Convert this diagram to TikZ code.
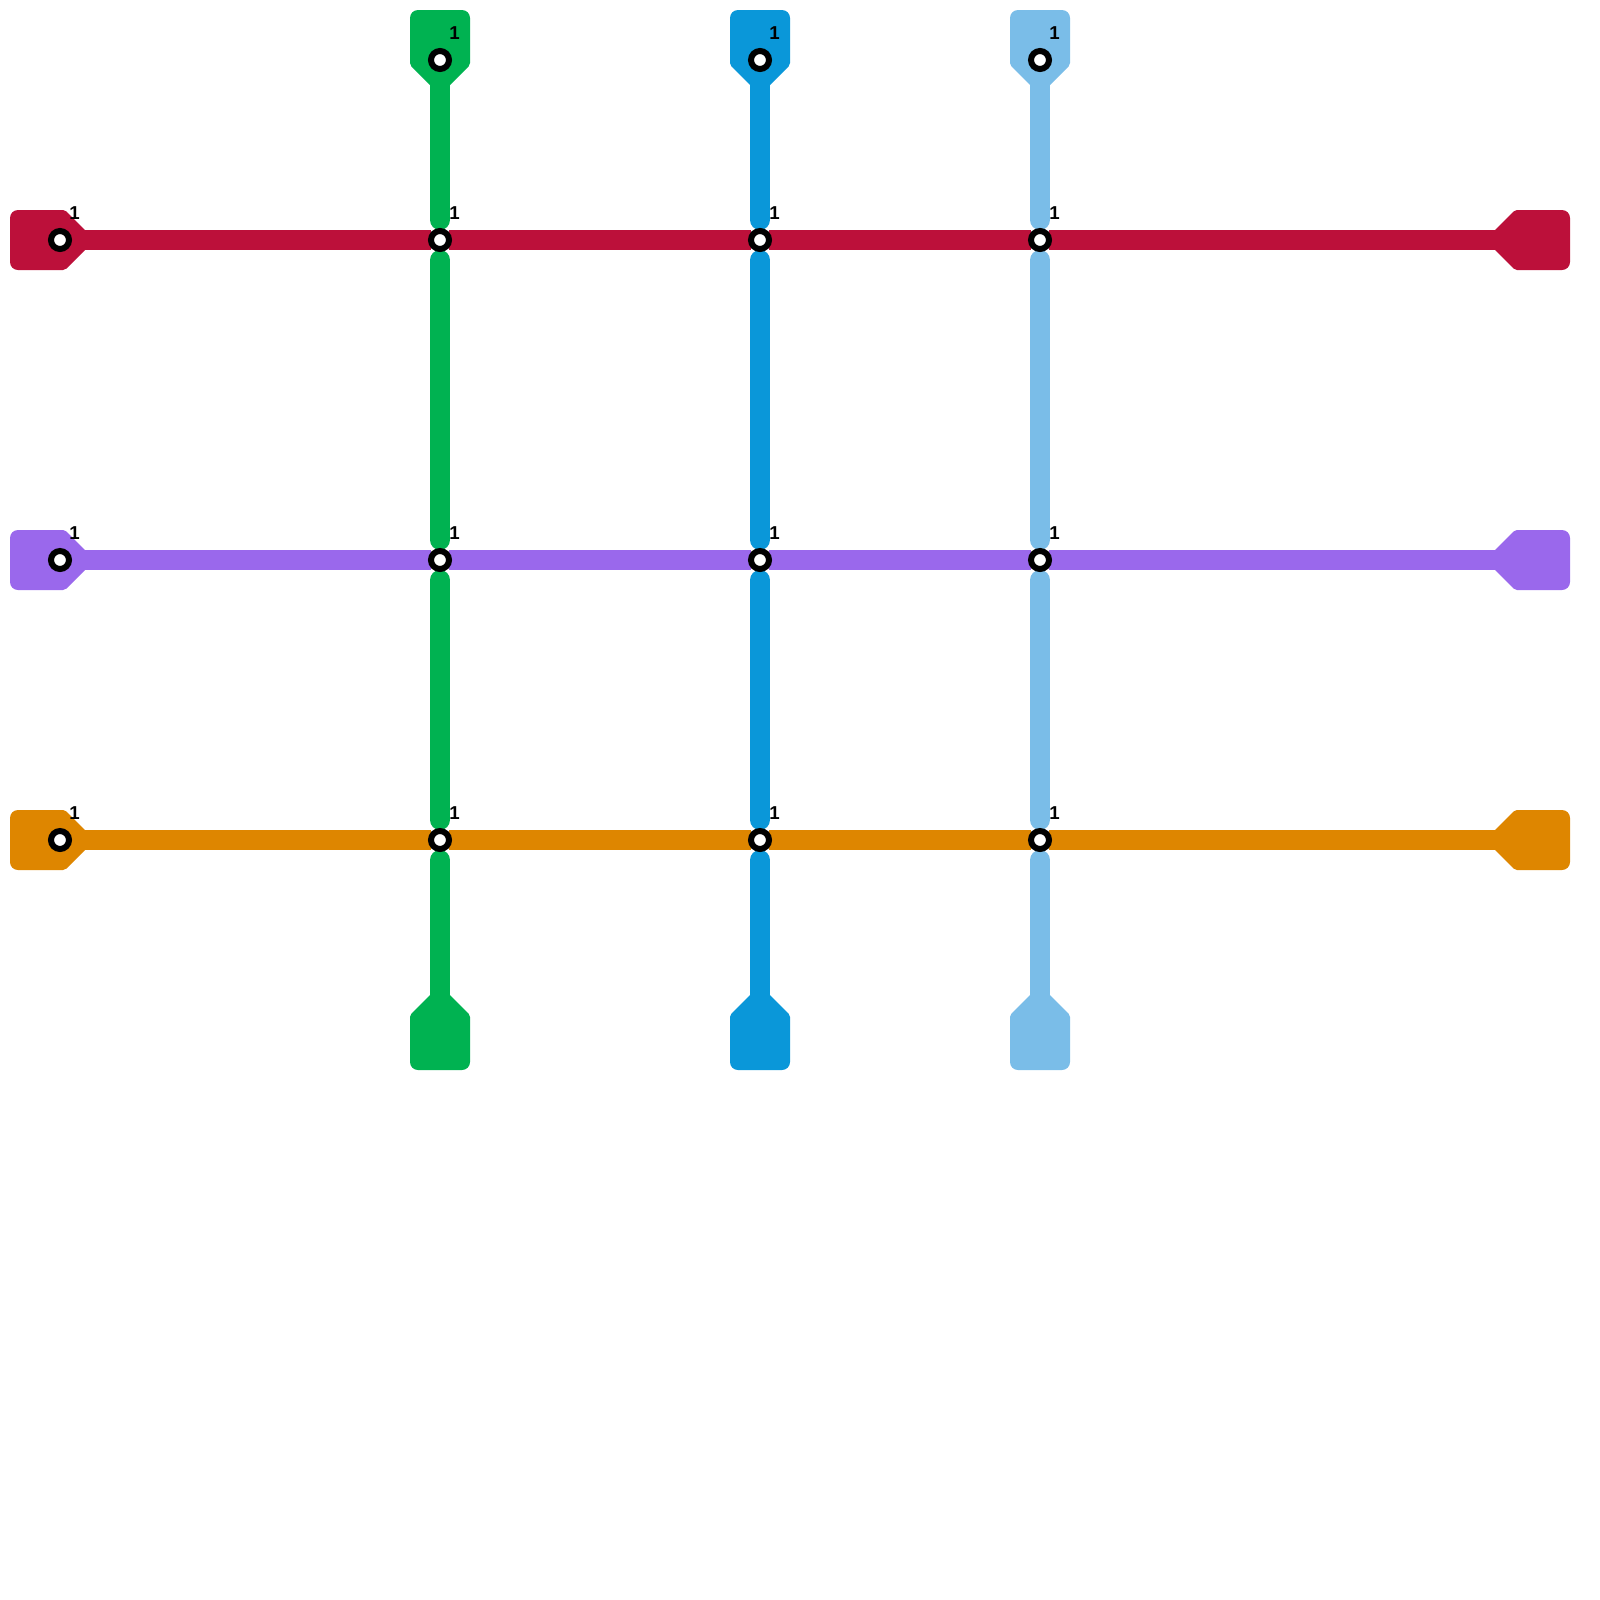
\documentclass[tikz,border=0pt]{standalone}
\usepackage{fontspec}
\setmainfont{Liberation Sans}
\usetikzlibrary{calc}
\definecolor{linered}{RGB}{188,16,58}
\definecolor{linepurple}{RGB}{154,104,236}
\definecolor{lineorange}{RGB}{222,134,0}
\definecolor{linegreen}{RGB}{0,178,81}
\definecolor{lineblue}{RGB}{10,151,217}
\definecolor{linesky}{RGB}{122,189,232}
\pgfdeclarelayer{lines}
\pgfsetlayers{lines,main}
\tikzstyle{station} = [circle,draw=black,fill=white,line width=4.5pt,minimum size=13.5pt,inner sep=0pt,outer sep=0pt]
\tikzstyle{count} = [inner sep=0pt,font=\fontsize{14}{14}\selectfont\bfseries]
\tikzstyle{hline} = [line width=15pt]
\tikzstyle{vline} = [line width=15pt,line cap=round,shorten <=8.25pt,shorten >=8.25pt]
\begin{document}
\begin{tikzpicture}[x=0.75pt,y=0.75pt,yscale=-1,xscale=1]
\useasboundingbox (0,0) rectangle (1600,1600);

% Stations
\node [station] (rs) at (60,240) {};
\node [station] (rg) at (440,240) {};
\node [station] (rb) at (760,240) {};
\node [station] (rk) at (1040,240) {};
\node [station] (ps) at (60,560) {};
\node [station] (pg) at (440,560) {};
\node [station] (pb) at (760,560) {};
\node [station] (pk) at (1040,560) {};
\node [station] (os) at (60,840) {};
\node [station] (og) at (440,840) {};
\node [station] (ob) at (760,840) {};
\node [station] (ok) at (1040,840) {};
\node [station] (gs) at (440,60) {};
\node [station] (bs) at (760,60) {};
\node [station] (ks) at (1040,60) {};
% Free ends, inside the end caps
\coordinate (re) at (1540,240);
\coordinate (pe) at (1540,560);
\coordinate (oe) at (1540,840);
\coordinate (ge) at (440,1040);
\coordinate (be) at (760,1040);
\coordinate (ke) at (1040,1040);

\begin{pgfonlayer}{lines}
%Horizontal lines
\draw [hline,linered] (rs) -- (rg);
\draw [hline,linered] (rg) -- (rb);
\draw [hline,linered] (rb) -- (rk);
\draw [hline,linered] (rk) -- (re);
\draw [hline,linepurple] (ps) -- (pg);
\draw [hline,linepurple] (pg) -- (pb);
\draw [hline,linepurple] (pb) -- (pk);
\draw [hline,linepurple] (pk) -- (pe);
\draw [hline,lineorange] (os) -- (og);
\draw [hline,lineorange] (og) -- (ob);
\draw [hline,lineorange] (ob) -- (ok);
\draw [hline,lineorange] (ok) -- (oe);
%Vertical lines
\draw [vline,linegreen] (gs) -- (rg);
\draw [vline,linegreen] (rg) -- (pg);
\draw [vline,linegreen] (pg) -- (og);
\draw [vline,linegreen] (og) -- (ge);
\draw [vline,lineblue] (bs) -- (rb);
\draw [vline,lineblue] (rb) -- (pb);
\draw [vline,lineblue] (pb) -- (ob);
\draw [vline,lineblue] (ob) -- (be);
\draw [vline,linesky] (ks) -- (rk);
\draw [vline,linesky] (rk) -- (pk);
\draw [vline,linesky] (pk) -- (ok);
\draw [vline,linesky] (ok) -- (ke);
%Left caps
\fill [linered] (85,230) -- (85,250) [rounded corners=1.5pt] -- (65,270) [rounded corners=6pt] -- (10,270) -- (10,210) [rounded corners=1.5pt] -- (65,210) [sharp corners] -- cycle;
\fill [linepurple] (85,550) -- (85,570) [rounded corners=1.5pt] -- (65,590) [rounded corners=6pt] -- (10,590) -- (10,530) [rounded corners=1.5pt] -- (65,530) [sharp corners] -- cycle;
\fill [lineorange] (85,830) -- (85,850) [rounded corners=1.5pt] -- (65,870) [rounded corners=6pt] -- (10,870) -- (10,810) [rounded corners=1.5pt] -- (65,810) [sharp corners] -- cycle;
%Right caps
\fill [linered] (1495,230) -- (1495,250) [rounded corners=1.5pt] -- (1515,270) [rounded corners=6pt] -- (1570,270) -- (1570,210) [rounded corners=1.5pt] -- (1515,210) [sharp corners] -- cycle;
\fill [linepurple] (1495,550) -- (1495,570) [rounded corners=1.5pt] -- (1515,590) [rounded corners=6pt] -- (1570,590) -- (1570,530) [rounded corners=1.5pt] -- (1515,530) [sharp corners] -- cycle;
\fill [lineorange] (1495,830) -- (1495,850) [rounded corners=1.5pt] -- (1515,870) [rounded corners=6pt] -- (1570,870) -- (1570,810) [rounded corners=1.5pt] -- (1515,810) [sharp corners] -- cycle;
%Top caps
\fill [linegreen] (450,85) -- (430,85) [rounded corners=1.5pt] -- (410,65) [rounded corners=6pt] -- (410,10) -- (470,10) [rounded corners=1.5pt] -- (470,65) [sharp corners] -- cycle;
\fill [lineblue] (770,85) -- (750,85) [rounded corners=1.5pt] -- (730,65) [rounded corners=6pt] -- (730,10) -- (790,10) [rounded corners=1.5pt] -- (790,65) [sharp corners] -- cycle;
\fill [linesky] (1050,85) -- (1030,85) [rounded corners=1.5pt] -- (1010,65) [rounded corners=6pt] -- (1010,10) -- (1070,10) [rounded corners=1.5pt] -- (1070,65) [sharp corners] -- cycle;
%Bottom caps
\fill [linegreen] (450,995) -- (430,995) [rounded corners=1.5pt] -- (410,1015) [rounded corners=6pt] -- (410,1070) -- (470,1070) [rounded corners=1.5pt] -- (470,1015) [sharp corners] -- cycle;
\fill [lineblue] (770,995) -- (750,995) [rounded corners=1.5pt] -- (730,1015) [rounded corners=6pt] -- (730,1070) -- (790,1070) [rounded corners=1.5pt] -- (790,1015) [sharp corners] -- cycle;
\fill [linesky] (1050,995) -- (1030,995) [rounded corners=1.5pt] -- (1010,1015) [rounded corners=6pt] -- (1010,1070) -- (1070,1070) [rounded corners=1.5pt] -- (1070,1015) [sharp corners] -- cycle;
\end{pgfonlayer}

% Counts
\node [count] (nrs) at ([shift={(14.5,-27)}]rs) {1};
\node [count] (nrg) at ([shift={(14.5,-27)}]rg) {1};
\node [count] (nrb) at ([shift={(14.5,-27)}]rb) {1};
\node [count] (nrk) at ([shift={(14.5,-27)}]rk) {1};
\node [count] (nps) at ([shift={(14.5,-27)}]ps) {1};
\node [count] (npg) at ([shift={(14.5,-27)}]pg) {1};
\node [count] (npb) at ([shift={(14.5,-27)}]pb) {1};
\node [count] (npk) at ([shift={(14.5,-27)}]pk) {1};
\node [count] (nos) at ([shift={(14.5,-27)}]os) {1};
\node [count] (nog) at ([shift={(14.5,-27)}]og) {1};
\node [count] (nob) at ([shift={(14.5,-27)}]ob) {1};
\node [count] (nok) at ([shift={(14.5,-27)}]ok) {1};
\node [count] (ngs) at ([shift={(14.5,-27)}]gs) {1};
\node [count] (nbs) at ([shift={(14.5,-27)}]bs) {1};
\node [count] (nks) at ([shift={(14.5,-27)}]ks) {1};

\end{tikzpicture}
\end{document}
